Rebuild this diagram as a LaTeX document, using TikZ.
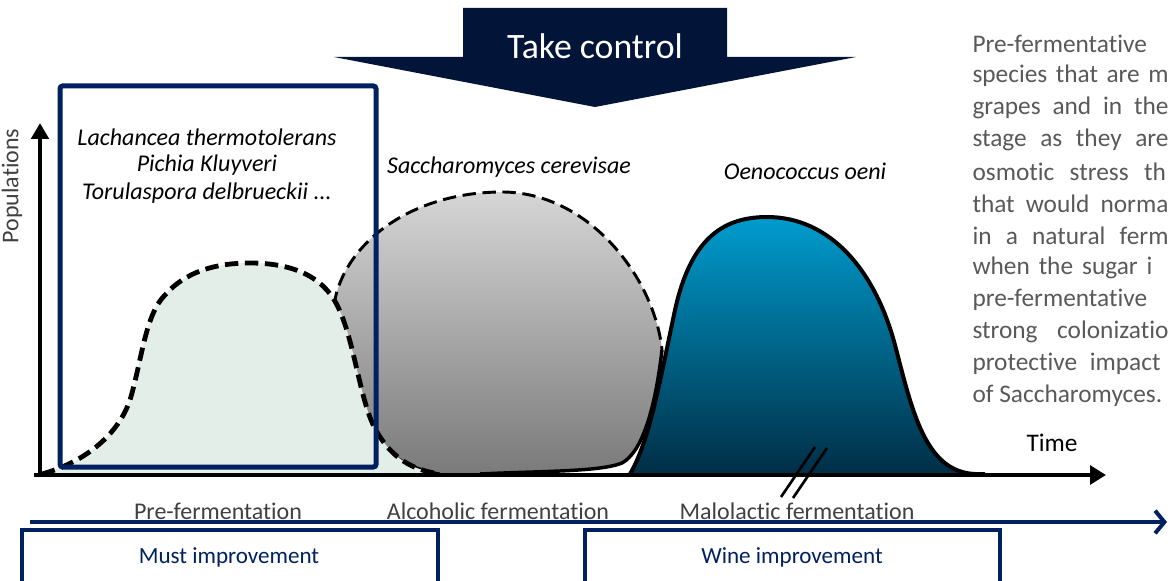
\documentclass[tikz,border=0pt]{standalone}
\usepackage{fontspec}
\setmainfont{Carlito}[Ligatures=CommonOff]
\usetikzlibrary{arrows.meta}

\definecolor{navyline}{RGB}{0,32,96}
\definecolor{navyfill}{RGB}{2,20,55}
\definecolor{mintfill}{RGB}{226,238,231}
\definecolor{greytext}{RGB}{64,64,64}
\definecolor{paratext}{RGB}{89,89,89}
\definecolor{oenitop}{RGB}{0,156,206}
\definecolor{oenibottom}{RGB}{0,46,70}
\definecolor{saccitop}{RGB}{214,214,214}
\definecolor{saccibottom}{RGB}{122,122,122}

\tikzset{every picture/.style={line width=0.75pt}}
\tikzset{
	phase label/.style={text=greytext, font=\fontsize{18}{21}\selectfont, inner sep=0pt},
	species label/.style={font=\itshape\fontsize{18}{21}\selectfont, inner sep=0pt},
	para line/.style={text=paratext, font=\fontsize{19}{22}\selectfont, anchor=west, inner sep=0pt},
	stage label/.style={text=navyline, font=\fontsize{17.3}{20}\selectfont, inner sep=0pt},
	stage box/.style={draw=navyline, line width=2.5pt},
	axis line/.style={line width=3pt},
	pre curve/.style={line width=3.6pt, dash pattern=on 10pt off 5pt},
	sacc curve/.style={line width=2.2pt, dash pattern=on 10pt off 5pt}}

\begin{document}
\begin{tikzpicture}[x=0.75pt,y=0.75pt,yscale=-1,xscale=1]
	\useasboundingbox (0,0) rectangle (1170,581);
	\clip (0,0) rectangle (1170,581);

	%Shape: Saccharomyces population
	\shade [top color=saccitop, bottom color=saccibottom] (440,474) .. controls (370,462) and (335,400) .. (333,320) .. controls (332,255) and (400,193) .. (500,192) .. controls (590,191) and (655,280) .. (662,350) .. controls (655,410) and (642,452) .. (622,463) .. controls (600,472) and (540,471) .. (480,474) -- cycle ;
	\draw [sacc curve] (440,474) .. controls (370,462) and (335,400) .. (333,320) .. controls (332,255) and (400,193) .. (500,192) .. controls (590,191) and (655,280) .. (662,350) ;
	\draw [line width=2.6pt] (662,350) .. controls (655,410) and (642,452) .. (622,463) .. controls (600,472) and (540,471) .. (480,474) ;

	%Shape: pre-fermentative yeasts population
	\fill [mintfill] (42,474) .. controls (85,462) and (118,435) .. (130,400) .. controls (142,360) and (145,315) .. (165,295) .. controls (185,272) and (215,263) .. (250,263) .. controls (290,263) and (322,275) .. (337,305) .. controls (355,340) and (360,405) .. (377,432) .. controls (392,458) and (412,470) .. (440,474) -- (440,476) -- (42,476) -- cycle ;
	\draw [pre curve] (42,474) .. controls (85,462) and (118,435) .. (130,400) .. controls (142,360) and (145,315) .. (165,295) .. controls (185,272) and (215,263) .. (250,263) .. controls (290,263) and (322,275) .. (337,305) .. controls (355,340) and (360,405) .. (377,432) .. controls (392,458) and (412,470) .. (440,474) ;

	%Shape: Oenococcus population
	\shade [top color=oenitop, bottom color=oenibottom] (630,474) .. controls (650,440) and (660,380) .. (675,310) .. controls (690,242) and (720,217) .. (767,217) .. controls (830,217) and (875,270) .. (895,345) .. controls (912,410) and (925,472) .. (975,474) -- cycle ;
	\draw [line width=3pt] (630,474) .. controls (650,440) and (660,380) .. (675,310) .. controls (690,242) and (720,217) .. (767,217) .. controls (830,217) and (875,270) .. (895,345) .. controls (912,410) and (925,472) .. (975,474) -- (985,474) ;

	%Shape: Rectangle around the first yeasts
	\draw [navyline, line width=3.75pt, rounded corners=2pt] (60,86) rectangle (376,467) ;

	%Straight Lines: axes
	\coordinate (origin) at (40,475) ;
	\coordinate (xstart) at (34,475) ;
	\coordinate (ytop) at (40,123) ;
	\coordinate (xend) at (1106,475) ;
	\draw [axis line, -{Triangle[width=13pt,length=12pt]}] (origin) -- (ytop) ;
	\draw [axis line, -{Triangle[width=14pt,length=12pt]}] (xstart) -- (xend) ;

	%Straight Lines: break marks
	\coordinate (brka) at (781,497) ;
	\coordinate (brkb) at (815,447) ;
	\coordinate (brkc) at (793,498) ;
	\coordinate (brkd) at (827,448) ;
	\draw [line width=2pt] (brka) -- (brkb) ;
	\draw [line width=2pt] (brkc) -- (brkd) ;

	%Shape: Take control arrow
	\fill [navyfill] (463,8) -- (727,8) -- (727,57) -- (856,57) -- (595,107) -- (334,57) -- (463,57) -- cycle ;

	%Straight Lines: timeline
	\coordinate (lineleft) at (30,522) ;
	\coordinate (lineright) at (1167,522) ;
	\draw [navyline, line width=3pt, -{Straight Barb[length=7pt,width=17pt]}] (lineleft) -- (lineright) ;

	%Shape: stage boxes
	\draw [stage box] (22,530) rectangle (438,600) ;
	\draw [stage box] (585,530) rectangle (1000,600) ;

	% Text Node
	\draw (595,46) node [text=white, font=\fontsize{26.8}{30}\selectfont] (take) {Take control};
	% Text Node
	\draw (12,186) node [rotate=90, text=greytext, font=\fontsize{18}{21}\selectfont, inner sep=0pt] (popul) {Populations};
	% Text Node
	\draw (1052,443) node [font=\fontsize{19}{22}\selectfont, inner sep=0pt] (time) {Time};
	% Text Node
	\draw (207,137) node [species label] (lacha) {Lachancea thermotolerans};
	\draw (207,165) node [species label] (pichia) {Pichia Kluyveri};
	\draw (207,193) node [species label] (torul) {Torulaspora delbrueckii ...};
	% Text Node
	\draw (509,167) node [species label] (sacc) {Saccharomyces cerevisae};
	% Text Node
	\draw (805,171) node [species label] (oeno) {Oenococcus oeni};
	% Text Node
	\draw (218,511) node [phase label] (prefer) {Pre-fermentation};
	\draw (498,511) node [phase label] (alcfer) {Alcoholic fermentation};
	\draw (797,511) node [phase label] (malfer) {Malolactic fermentation};
	% Text Node
	\draw (229,557) node [stage label] (must) {Must improvement};
	\draw (792,557) node [stage label] (wine) {Wine improvement};

	% Text Node: side paragraph
	\draw (972,44) node [para line] (para1) {Pre-fermentative};
	\draw (972,76) node [para line] (para2) {\makebox[147pt][s]{species that are m}};
	\draw (972,108) node [para line] (para3) {\makebox[147pt][s]{grapes and in the}};
	\draw (972,140) node [para line] (para4) {\makebox[147pt][s]{stage as they are}};
	\draw (972,172) node [para line] (para5) {\makebox[145pt][s]{osmotic stress th}};
	\draw (972,204) node [para line] (para6) {\makebox[147pt][s]{that would norma}};
	\draw (972,236) node [para line] (para7) {\makebox[147pt][s]{in a natural ferm}};
	\draw (972,268) node [para line] (para8) {\makebox[135pt][s]{when the sugar i}};
	\draw (972,300) node [para line] (para9) {pre-fermentative};
	\draw (972,332) node [para line] (para10) {\makebox[147pt][s]{strong colonizatio}};
	\draw (972,364) node [para line] (para11) {\makebox[141pt][s]{protective impact}};
	\draw (972,396) node [para line] (para12) {of Saccharomyces.};

\end{tikzpicture}
\end{document}
